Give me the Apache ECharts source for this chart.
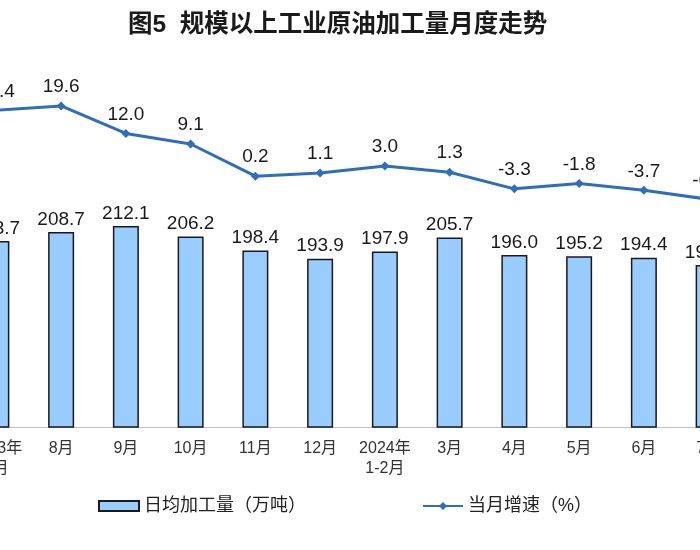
<!DOCTYPE html>
<html><head><meta charset="utf-8">
<script src="https://cdn.jsdelivr.net/npm/echarts@6/dist/echarts.min.js"></script>
<style>html,body{margin:0;padding:0;background:#fff}#c{width:700px;height:550px}</style>
</head><body><div id="c"></div>
<script>
const categories = ['2023年\n7月','8月','9月','10月','11月','12月','2024年\n1-2月','3月','4月','5月','6月','7月'];
const dailyOutput = [203.7,208.7,212.1,206.2,198.4,193.9,197.9,205.7,196.0,195.2,194.4,190.4];
const growthRate = [18.4,19.6,12.0,9.1,0.2,1.1,3.0,1.3,-3.3,-1.8,-3.7,-6.2];
const seriesNames = ['日均加工量（万吨）','当月增速（%）'];
const titleText = '图5  规模以上工业原油加工量月度走势';

const FONT = '"Liberation Sans", "Noto Sans CJK SC", sans-serif';
const chart = echarts.init(document.getElementById('c'), null, {renderer:'canvas'});
chart.setOption({
  animation:false,
  backgroundColor:'#fff',
  title:{text:titleText,left:123,top:8,textStyle:{fontFamily:FONT,fontSize:24.5,fontWeight:'bold',color:'#1a1a1a'}},
  legend:{
    data:[{name:seriesNames[0],icon:'rect'},{name:seriesNames[1]}],
    left:93, top:492, itemGap:116, itemWidth:40, itemHeight:10,
    textStyle:{fontFamily:FONT,fontSize:18,color:'#222'}
  },
  grid:{left:-36,right:-41,top:60,bottom:123,containLabel:false,outerBoundsMode:'none'},
  xAxis:{type:'category',data:categories,boundaryGap:true,
    axisLine:{onZero:false,lineStyle:{color:'#bfbfbf',width:1}},
    axisTick:{inside:true,length:5,lineStyle:{color:'#bfbfbf'}},
    axisLabel:{fontFamily:FONT,fontSize:16,color:'#333',margin:12,lineHeight:20,interval:0}
  },
  yAxis:[
    {type:'value',min:100,max:304.7,show:false,splitLine:{show:false}},
    {type:'value',min:-69.1,max:32.3,show:false,splitLine:{show:false}}
  ],
  series:[
    {name:seriesNames[0],type:'bar',data:dailyOutput,yAxisIndex:0,barWidth:26,
      itemStyle:{color:'#99ccff',borderColor:'#1a1a1a',borderWidth:1.5},
      label:{show:true,position:'top',distance:3,fontFamily:FONT,fontSize:19,color:'#1a1a1a',formatter:p=>p.value.toFixed(1)}
    },
    {name:seriesNames[1],type:'line',data:growthRate,yAxisIndex:1,
      symbol:'diamond',symbolSize:9,
      lineStyle:{color:'#2e6fbd',width:3},itemStyle:{color:'#2e6fbd'},
      label:{show:true,position:'top',distance:5,fontFamily:FONT,fontSize:19,color:'#1a1a1a',formatter:p=>p.value.toFixed(1)}
    }
  ]
});
</script></body></html>
